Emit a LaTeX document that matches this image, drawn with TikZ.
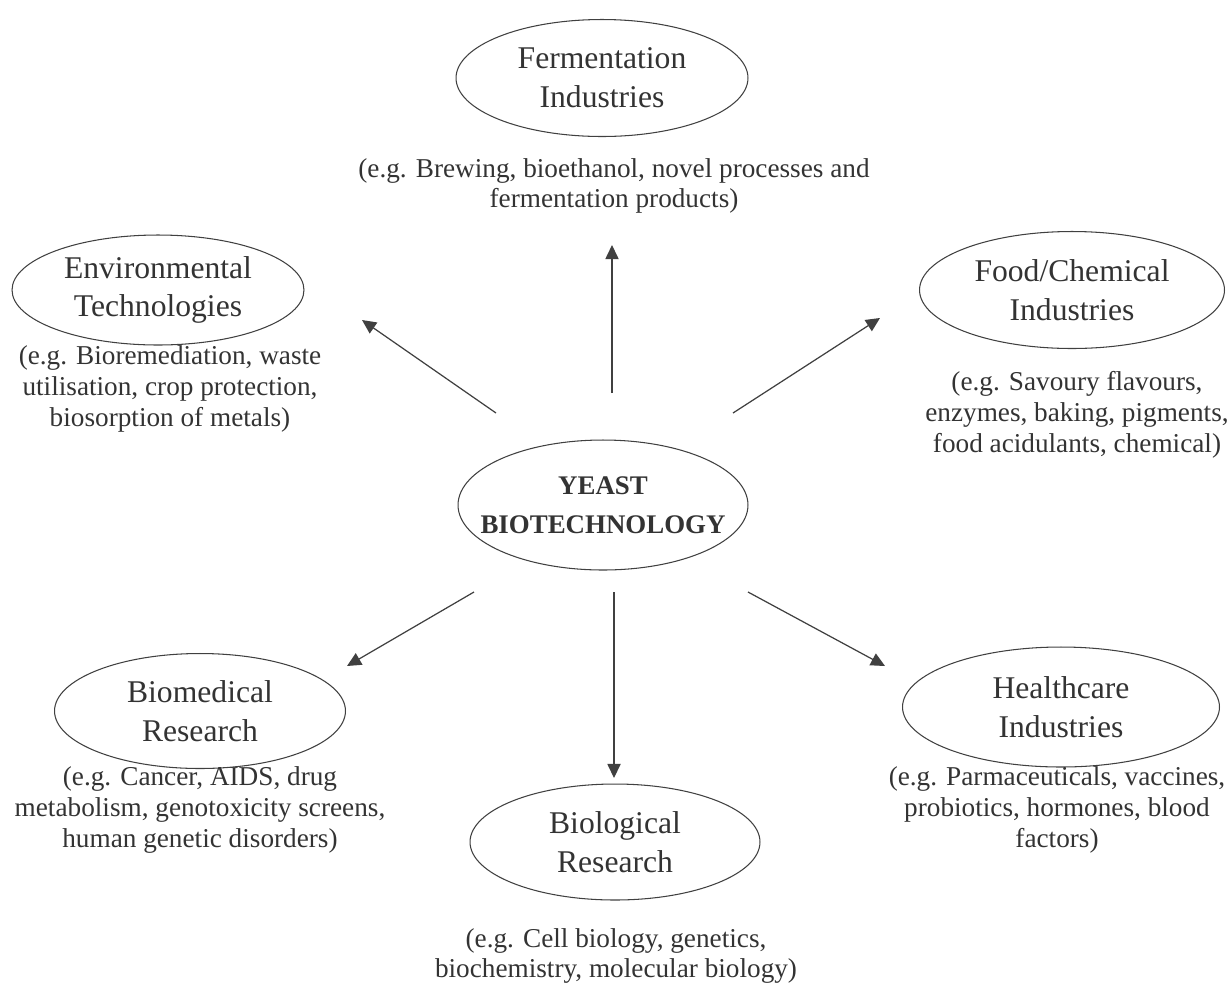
\documentclass[tikz,border=0pt]{standalone}
\usepackage{fontspec}
\setmainfont{Liberation Serif}
\usetikzlibrary{shapes.geometric, arrows.meta, positioning}

\begin{document}
\begin{tikzpicture}[
    x=0.02cm, y=-0.02cm,
    every node/.style={align=center, text=black!80},
    area/.style={ellipse, draw=black!75, line width=0.6pt, inner sep=-1cm, font=\fontsize{18}{22}\selectfont},
    core/.style={area, font=\fontsize{15.3}{22}\selectfont\bfseries},
    note/.style={font=\fontsize{15.5}{17.5}\selectfont, inner sep=0pt},
    arrow/.style={-{Triangle[length=8pt, width=7.5pt]}, line width=0.7pt, draw=black!75}
]
\useasboundingbox (0,0) rectangle (1230,1005);

% NODES
\node[core, minimum width=5.8cm, minimum height=2.6cm] (yeast) at (603,505) {YEAST\\BIOTECHNOLOGY};
\node[area, minimum width=5.84cm, minimum height=2.34cm] (ferm) at (602,78) {Fermentation\\Industries};
\node[area, minimum width=5.84cm, minimum height=2.2cm] (env) at (158,290) {Environmental\\Technologies};
\node[area, minimum width=6.1cm, minimum height=2.34cm] (food) at (1072,290) {Food/Chemical\\Industries};
\node[area, minimum width=5.82cm, minimum height=2.3cm] (biomed) at (200,711) {Biomedical\\Research};
\node[area, minimum width=6.34cm, minimum height=2.4cm] (health) at (1061,707) {Healthcare\\Industries};
\node[area, minimum width=5.8cm, minimum height=2.32cm] (bio) at (615,842) {Biological\\Research};

% EXAMPLES
\node[note] (fermtxt) at (614,186) {(e.g. Brewing, bioethanol, novel processes and\\fermentation products)};
\node[note] (envtxt) at (170,389) {(e.g. Bioremediation, waste\\utilisation, crop protection,\\biosorption of metals)};
\node[note] (foodtxt) at (1077,415) {(e.g. Savoury flavours,\\enzymes, baking, pigments,\\food acidulants, chemical)};
\node[note] (biomedtxt) at (200,810) {(e.g. Cancer, AIDS, drug\\metabolism, genotoxicity screens,\\human genetic disorders)};
\node[note] (healthtxt) at (1057,810) {(e.g. Parmaceuticals, vaccines,\\probiotics, hormones, blood\\factors)};
\node[note] (biotxt) at (616,956) {(e.g. Cell biology, genetics,\\biochemistry, molecular biology)};

% ARROW ENDS
\coordinate (upA) at (612,393);   \coordinate (upB) at (612,245);
\coordinate (ulA) at (496,413);   \coordinate (ulB) at (362,320);
\coordinate (urA) at (733,413);   \coordinate (urB) at (880,318);
\coordinate (llA) at (474,592);   \coordinate (llB) at (347,666);
\coordinate (dnA) at (614,592);   \coordinate (dnB) at (614,778);
\coordinate (lrA) at (748,592);   \coordinate (lrB) at (885,666);

% ARROWS
\draw[arrow] (upA) -- (upB);
\draw[arrow] (ulA) -- (ulB);
\draw[arrow] (urA) -- (urB);
\draw[arrow] (llA) -- (llB);
\draw[arrow] (dnA) -- (dnB);
\draw[arrow] (lrA) -- (lrB);

\end{tikzpicture}
\end{document}
